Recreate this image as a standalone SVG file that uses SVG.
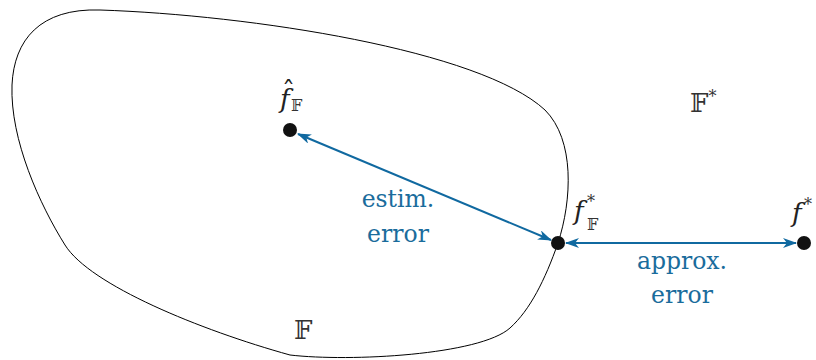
<svg xmlns="http://www.w3.org/2000/svg" width="816" height="360" viewBox="0 0 816 360">
<defs>
<style>
.blob{fill:none;stroke:#000;stroke-width:1}
.arr{stroke:#1069a0;stroke-width:2;fill:none}
.dot{fill:#111}
.lbl{font-family:'DejaVu Serif',serif;fill:#1a6c9c;font-size:23.5px;text-anchor:middle}
.m{font-family:'DejaVu Serif',serif;fill:#222;font-size:26px}
.bb{font-family:'DejaVu Serif',serif;fill:#333}
</style>
<marker id="ah" viewBox="0 0 14 10" refX="13" refY="5" markerWidth="14" markerHeight="10" markerUnits="userSpaceOnUse" orient="auto-start-reverse">
<path d="M0,0 L14,5 L0,10 L4,5 Z" fill="#1069a0"/>
</marker>
</defs>
<g id="region-F">
<path class="blob" d="M100 10 C250 15,480 50,545 110 C575 140,572 200,558 243 C545 280,530 310,510 328 C480 355,350 362,290 355 C200 330,90 285,65 245 C40 205,10 140,12 85 C14 40,40 8,100 10 Z"/>
<text class="bb" x="294" y="339" font-size="26">𝔽</text>
</g>
<g id="label-Fstar">
<text class="bb" x="690" y="112" font-size="26">𝔽<tspan font-size="16" dy="-10">*</tspan></text>
</g>
<g id="connectors">
<line class="arr" x1="298" y1="134" x2="551" y2="240" marker-start="url(#ah)" marker-end="url(#ah)"/>
<line class="arr" x1="566" y1="243" x2="796" y2="243" marker-start="url(#ah)" marker-end="url(#ah)"/>
<text class="lbl" x="398" y="207">estim.</text>
<text class="lbl" x="398" y="242">error</text>
<text class="lbl" x="682" y="269">approx.</text>
<text class="lbl" x="682" y="303">error</text>
</g>
<g id="node-fhat">
<circle class="dot" cx="290" cy="130" r="7"/>
<text class="m" x="280" y="108" font-style="italic">f</text>
<text class="m" x="282" y="100" font-size="22">ˆ</text>
<text class="bb" x="291" y="111" font-size="16">𝔽</text>
</g>
<g id="node-fFstar">
<circle class="dot" cx="558" cy="243" r="7"/>
<text class="m" x="574" y="220" font-style="italic">f</text>
<text class="bb" x="587" y="207" font-size="16">*</text>
<text class="bb" x="587" y="230" font-size="16">𝔽</text>
</g>
<g id="node-fstar">
<circle class="dot" cx="804" cy="243" r="7"/>
<text class="m" x="792" y="222" font-style="italic">f</text>
<text class="bb" x="804" y="210" font-size="16">*</text>
</g>
</svg>
